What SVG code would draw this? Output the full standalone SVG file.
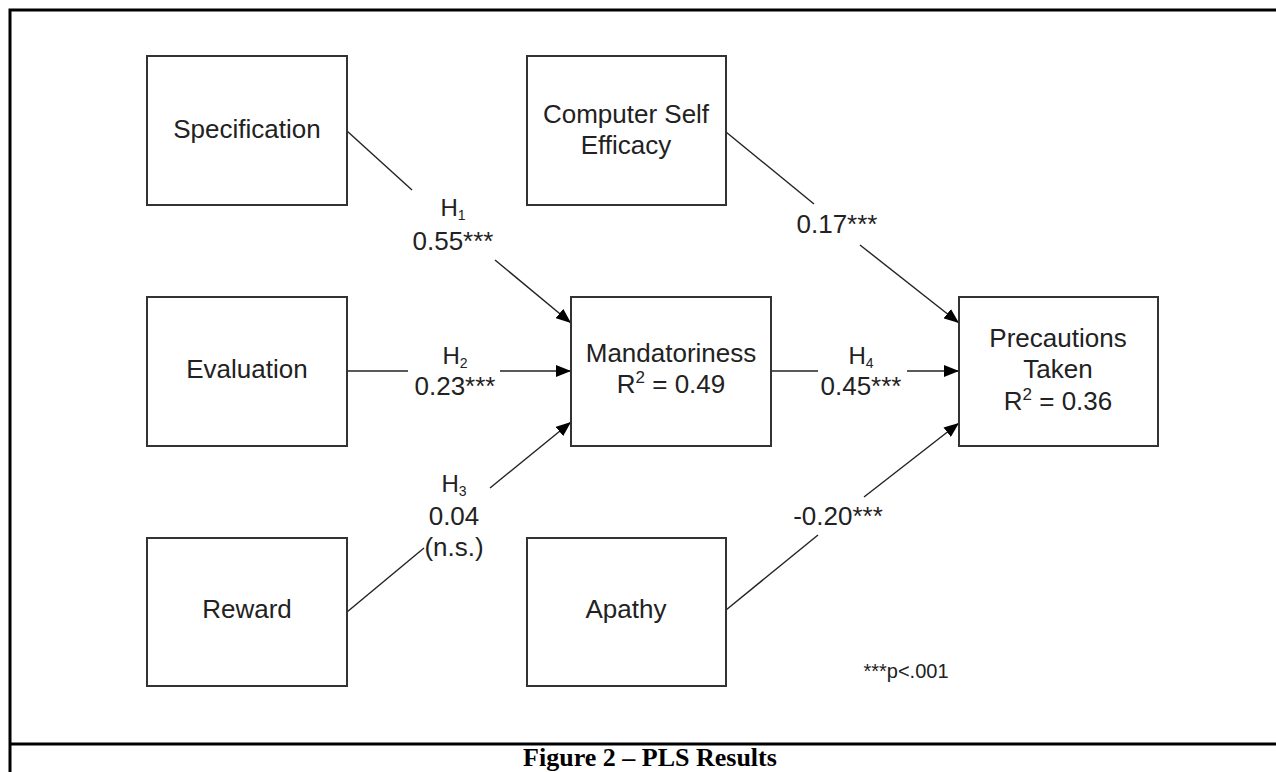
<svg xmlns="http://www.w3.org/2000/svg" width="1276" height="772" viewBox="0 0 1276 772">
<defs>
<marker id="arr" markerUnits="userSpaceOnUse" markerWidth="16" markerHeight="12" refX="15" refY="6" orient="auto">
<path d="M0,0 L15,6 L0,12 z" fill="#000"/>
</marker>
<style>
.box{fill:#fff;stroke:#333;stroke-width:2}
.nt{font-family:"Liberation Sans",Arial,sans-serif;font-size:26px;fill:#222;text-anchor:middle}
.lt{font-family:"Liberation Sans",Arial,sans-serif;font-size:26px;fill:#222;text-anchor:middle}
.ht{font-family:"Liberation Sans",Arial,sans-serif;font-size:24px;fill:#222;text-anchor:middle}
.sub{font-size:14px}
.ln{stroke:#222;stroke-width:1.4;fill:none}
.frame{stroke:#000;stroke-width:3;fill:none}
.cap{font-family:"Liberation Serif","Times New Roman",serif;font-size:26px;font-weight:bold;fill:#000;text-anchor:middle}
</style>
</defs>
<rect width="1276" height="772" fill="#fff"/>
<g id="frame">
<path class="frame" d="M10,772 L10,10 L1276,10"/>
<path class="frame" d="M10,744 L1276,744"/>
<text class="cap" x="650" y="766">Figure 2 – PLS Results</text>
</g>
<g id="connectors">
<line class="ln" x1="347" y1="131" x2="412" y2="190"/>
<line class="ln" x1="495" y1="260" x2="571" y2="323" marker-end="url(#arr)"/>
<line class="ln" x1="347" y1="371" x2="408" y2="371"/>
<line class="ln" x1="500" y1="371" x2="571" y2="371" marker-end="url(#arr)"/>
<line class="ln" x1="347" y1="612" x2="424" y2="548"/>
<line class="ln" x1="490" y1="488" x2="571" y2="422" marker-end="url(#arr)"/>
<line class="ln" x1="726" y1="132" x2="814" y2="204"/>
<line class="ln" x1="860" y1="245" x2="959" y2="323" marker-end="url(#arr)"/>
<line class="ln" x1="771" y1="371" x2="818" y2="371"/>
<line class="ln" x1="907" y1="371" x2="959" y2="371" marker-end="url(#arr)"/>
<line class="ln" x1="726" y1="610" x2="818" y2="535"/>
<line class="ln" x1="864" y1="497" x2="959" y2="423" marker-end="url(#arr)"/>
<text class="ht" x="453" y="216">H<tspan class="sub" dy="4">1</tspan></text>
<text class="lt" x="453" y="250">0.55***</text>
<text class="ht" x="455" y="364">H<tspan class="sub" dy="4">2</tspan></text>
<text class="lt" x="455" y="395">0.23***</text>
<text class="ht" x="454" y="492">H<tspan class="sub" dy="4">3</tspan></text>
<text class="lt" x="454" y="525">0.04</text>
<text class="lt" x="454" y="556">(n.s.)</text>
<text class="lt" x="837" y="233">0.17***</text>
<text class="ht" x="861" y="364">H<tspan class="sub" dy="4">4</tspan></text>
<text class="lt" x="861" y="395">0.45***</text>
<text class="lt" x="838" y="525">-0.20***</text>
<text class="lt" x="906" y="678" style="font-size:20px">***p&lt;.001</text>
</g>
<g id="specification">
<rect class="box" x="147" y="56" width="200" height="149"/>
<text class="nt" x="247" y="138">Specification</text>
</g>
<g id="computer-self-efficacy">
<rect class="box" x="527" y="56" width="199" height="149"/>
<text class="nt" x="626" y="123">Computer Self</text>
<text class="nt" x="626" y="154">Efficacy</text>
</g>
<g id="evaluation">
<rect class="box" x="147" y="297" width="200" height="149"/>
<text class="nt" x="247" y="378">Evaluation</text>
</g>
<g id="mandatoriness">
<rect class="box" x="571" y="297" width="200" height="149"/>
<text class="nt" x="671" y="362">Mandatoriness</text>
<text class="nt" x="671" y="393">R<tspan font-size="17" dy="-10">2</tspan><tspan dy="10"> = 0.49</tspan></text>
</g>
<g id="precautions-taken">
<rect class="box" x="959" y="297" width="199" height="149"/>
<text class="nt" x="1058" y="347">Precautions</text>
<text class="nt" x="1058" y="378">Taken</text>
<text class="nt" x="1058" y="410">R<tspan font-size="17" dy="-10">2</tspan><tspan dy="10"> = 0.36</tspan></text>
</g>
<g id="reward">
<rect class="box" x="147" y="538" width="200" height="148"/>
<text class="nt" x="247" y="618">Reward</text>
</g>
<g id="apathy">
<rect class="box" x="527" y="538" width="199" height="148"/>
<text class="nt" x="626" y="618">Apathy</text>
</g>
</svg>
